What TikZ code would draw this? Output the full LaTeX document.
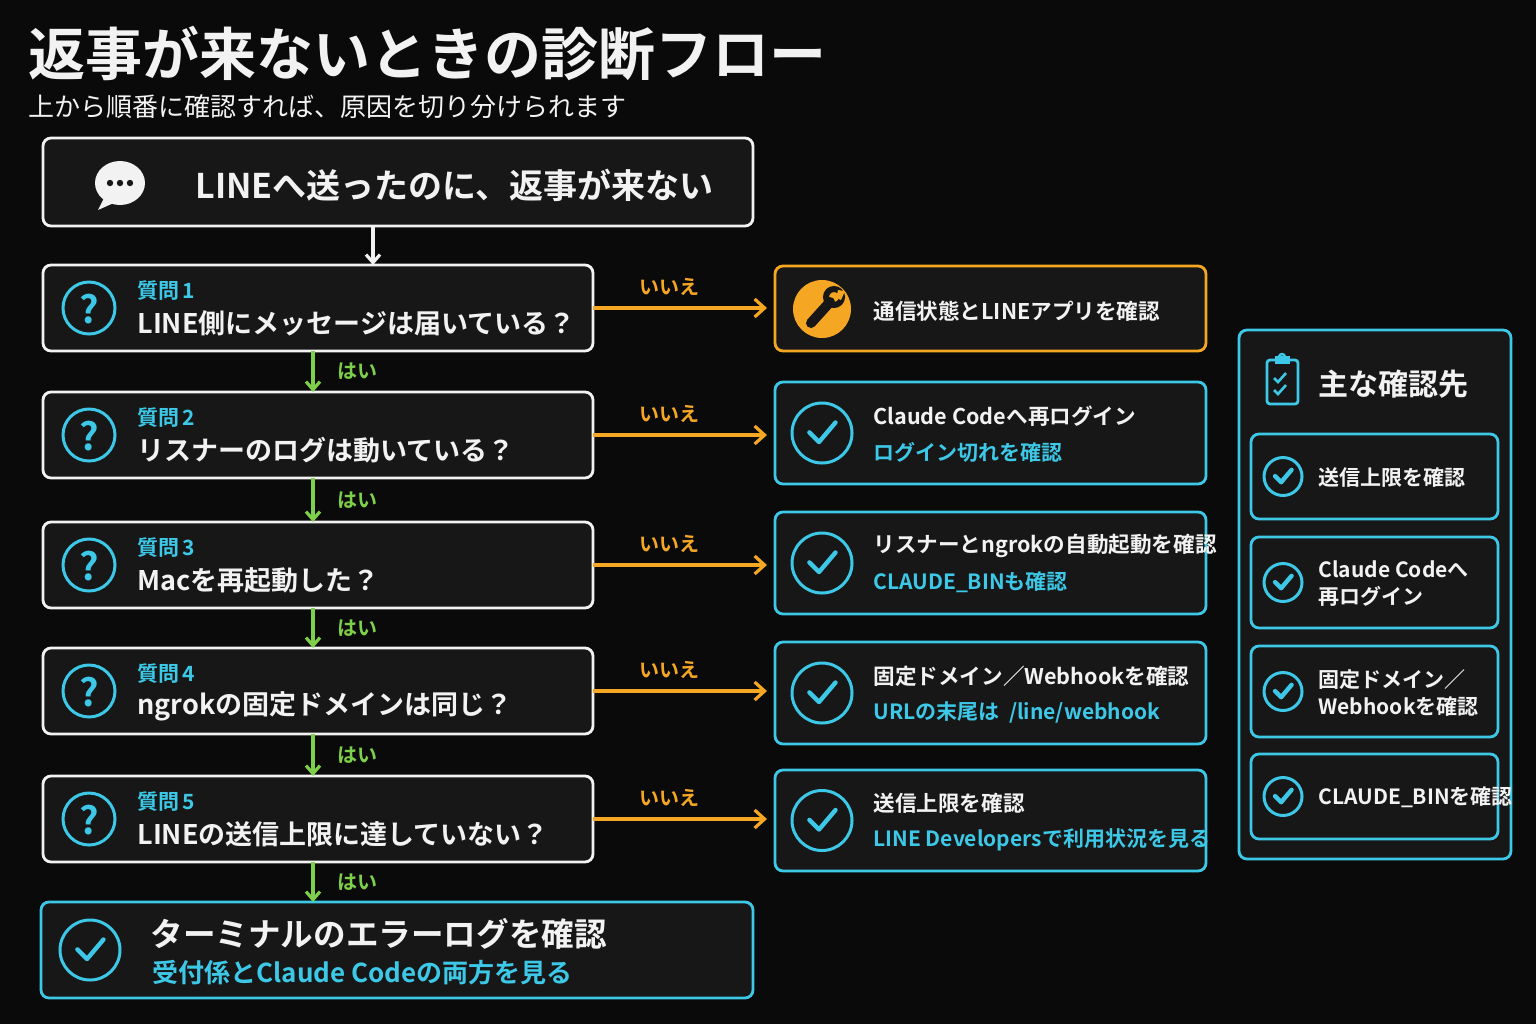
\documentclass[tikz,border=0pt]{standalone}
\usepackage{fontspec}
\setmainfont{Noto Sans CJK JP}[BoldFont={Noto Sans CJK JP Bold}]
\usetikzlibrary{arrows.meta,calc}
\definecolor{bg}{HTML}{0A0A0A}
\definecolor{boxf}{HTML}{171717}
\definecolor{cy}{HTML}{3CC8E6}
\definecolor{org}{HTML}{F5A623}
\definecolor{grn}{HTML}{7ED04B}
\definecolor{wt}{HTML}{F2F2F2}
\tikzset{
 box/.style={draw=#1,fill=boxf,rounded corners=4pt,line width=1.4pt,inner sep=0pt,outer sep=0pt},
 txt/.style={anchor=west,text=wt,font=\bfseries,inner sep=0pt},
 qlab/.style={anchor=west,text=cy,font=\bfseries\fontsize{10.5}{12}\selectfont,inner sep=0pt},
 qtxt/.style={txt,font=\bfseries\fontsize{13.5}{15}\selectfont},
 rtxt/.style={txt,font=\bfseries\fontsize{10.8}{13}\selectfont},
 rsub/.style={anchor=west,text=cy,font=\bfseries\fontsize{10.5}{13}\selectfont,inner sep=0pt},
 itxt/.style={txt,font=\bfseries\fontsize{10.5}{13.5}\selectfont,align=left},
 garr/.style={-{Straight Barb[length=4pt,width=7pt]},draw=grn,line width=1.6pt},
 oarr/.style={-{Straight Barb[length=5pt,width=9pt]},draw=org,line width=1.6pt},
 hai/.style={anchor=west,text=grn,font=\bfseries\fontsize{10}{12}\selectfont,inner sep=0pt},
 iie/.style={text=org,font=\bfseries\fontsize{10}{12}\selectfont,inner sep=0pt},
 pics/qicon/.style={code={\draw[cy,line width=1.5pt] (0,0) circle[radius=13pt];
   \node[text=cy,font=\bfseries\fontsize{19}{20}\selectfont] at (0,1) {?};}},
 pics/cicon/.style={code={\draw[cy,line width=1.5pt] (0,0) circle[radius=#1];
   \draw[cy,line width=2.2pt,line cap=round,line join=round] (-0.42*#1,0.02*#1) -- (-0.1*#1,-0.3*#1) -- (0.45*#1,0.35*#1);}},
}
\begin{document}
\begin{tikzpicture}[x=0.5pt,y=-0.5pt]
\useasboundingbox[fill=bg] (0,0) rectangle (1536,1024);
% title
\node[txt,font=\bfseries\fontsize{28.5}{30}\selectfont] (title) at (28,53) {返事が来ないときの診断フロー};
\node[anchor=west,text=wt!90,inner sep=0pt,font=\fontsize{13}{15}\selectfont] (sub) at (28,107) {上から順番に確認すれば、原因を切り分けられます};
% start
\node[box=wt,minimum width=355pt,minimum height=44pt] (start) at (398,182) {};
\fill[wt] (120,183) ellipse[x radius=25,y radius=22];
\fill[wt] (104,198) -- (98,210) -- (116,202) -- cycle;
\foreach \dx in {-10,0,10}{\fill[boxf] (120+\dx,183) circle[radius=3.2];}
\node[txt,font=\bfseries\fontsize{17}{20}\selectfont] (starttxt) at (195,185) {LINEへ送ったのに、返事が来ない};
% questions
\foreach \i/\y/\t in {1/308/LINE側にメッセージは届いている？,2/435/リスナーのログは動いている？,3/565/Macを再起動した？,4/691/ngrokの固定ドメインは同じ？,5/819/LINEの送信上限に達していない？}{
 \node[box=wt,minimum width=275pt,minimum height=43pt] (q\i) at (318,\y) {};
 \pic at (89,\y) {qicon};
 \node[qlab] (ql\i) at (137,\y-17) {質問\,\i};
 \node[qtxt] (qt\i) at (137,\y+15) {\t};
}
\draw[-{Straight Barb[length=4pt,width=7pt]},draw=wt,line width=1.6pt] ([xshift=-12.5pt]start.south) -- ([xshift=27.5pt]q1.north);
% final
\node[box=cy,minimum width=356pt,minimum height=48pt] (fin) at (397,950) {};
\pic at (90,950) {cicon=15pt};
\node[txt,font=\bfseries\fontsize{16.3}{18}\selectfont] (fint) at (150,934) {ターミナルのエラーログを確認};
\node[rsub,font=\bfseries\fontsize{13}{15}\selectfont] (fins) at (152,973) {受付係とClaude Codeの両方を見る};
% green arrows
\foreach \a/\b in {q1/q2,q2/q3,q3/q4,q4/q5,q5/fin}{
 \coordinate (s\a) at ([xshift=-2.5pt]\a.south);
 \draw[garr] (s\a) -- (s\a |- \b.north);
 \node[hai] at ($(s\a)!0.5!(s\a |- \b.north)+(12pt,0)$) {はい};
}
% right boxes
\node[box=org,minimum width=215.5pt,minimum height=42.5pt] (r1) at (990.5,308.5) {};
\fill[org] (822,309) circle[radius=29];
\draw[boxf,line width=5pt,line cap=round] (811,323) -- (830,302);
\draw[boxf,line width=3pt] (834,297) circle[radius=8];
\fill[org] (838,290) -- (845,291) -- (841,300) -- (836,298) -- cycle;
\node[rtxt] (r1t) at (873,311) {通信状態とLINEアプリを確認};
\foreach \i/\y/\h/\t/\s in {2/433/51/Claude Codeへ再ログイン/ログイン切れを確認,3/563/51/リスナーとngrokの自動起動を確認/CLAUDE\_BINも確認,4/693/51/固定ドメイン／Webhookを確認/{URLの末尾は\ \ /line/webhook},5/820.5/50.5/送信上限を確認/LINE Developersで利用状況を見る}{
 \node[box=cy,minimum width=215.5pt,minimum height=\h pt] (r\i) at (990.5,\y) {};
 \pic at (822,\y) {cicon=15pt};
 \node[rtxt] (r\i t) at (873,\y-17) {\t};
 \node[rsub] (r\i s) at (873,\y+19) {\s};
}
% orange arrows
\foreach \i in {1,...,5}{
 \draw[oarr,shorten >=4pt] (q\i.east) -- (q\i.east -| r\i.west);
 \node[iie] at ([xshift=38pt,yshift=10.5pt]q\i.east) {いいえ};
}
% side panel
\node[box=cy,minimum width=136pt,minimum height=264.5pt] (panel) at (1375,594.5) {};
\draw[cy,line width=1.4pt,rounded corners=1.5pt] (1267,360) rectangle (1298,404);
\fill[cy] (1275,356) rectangle (1290,364);
\draw[cy,line width=1.2pt] (1282,357) circle[radius=3];
\draw[cy,line width=1.3pt] (1274,378) -- (1278,382) -- (1286,373) (1274,390) -- (1278,394) -- (1286,385);
\node[txt,font=\bfseries\fontsize{15}{17}\selectfont] (ptitle) at (1318,384) {主な確認先};
\foreach \i/\y/\h/\t in {1/476.5/42.5/送信上限を確認,2/582.5/45.5/{Claude Codeへ\\再ログイン},3/691.5/45.5/{固定ドメイン／\\Webhookを確認},4/796.5/42.5/{CLAUDE\_BINを確認}}{
 \node[box=cy,minimum width=123.5pt,minimum height=\h pt] (p\i) at (1374.5,\y) {};
 \pic at (1283,\y) {cicon=9.5pt};
 \node[itxt] (p\i t) at (1318,\y+1) {\t};
}
\end{tikzpicture}
\end{document}
